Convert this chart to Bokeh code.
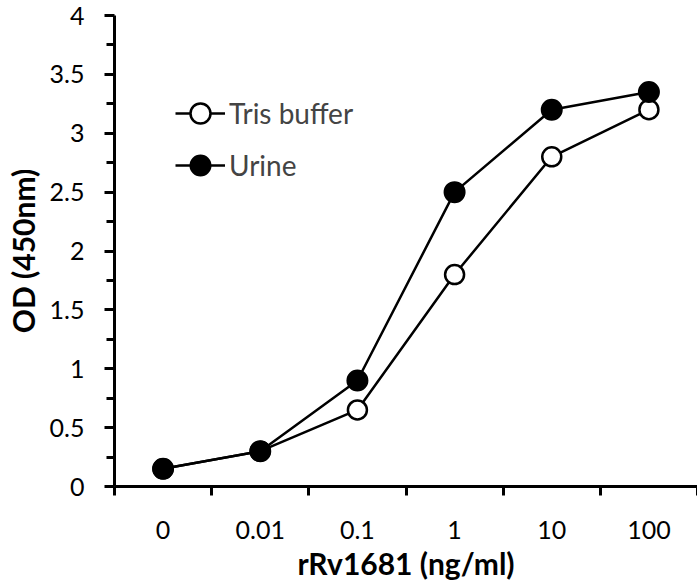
from bokeh.plotting import figure
from bokeh.models import FixedTicker, Range1d, Legend, LegendItem
from bokeh.embed import file_html
from bokeh.resources import INLINE
import numpy as np

# Data
concentrations = ["0", "0.01", "0.1", "1", "10", "100"]
tris_buffer = [0.15, 0.30, 0.65, 1.80, 2.80, 3.20]
urine = [0.15, 0.30, 0.90, 2.50, 3.20, 3.35]
y_ticks = [0, 0.5, 1, 1.5, 2, 2.5, 3, 3.5, 4]
y_minor = [0.25, 0.75, 1.25, 1.75, 2.25, 2.75, 3.25, 3.75]

n = len(concentrations)
xs = list(np.arange(n) + 0.5)

FONT = "Lato"

p = figure(frame_width=583, frame_height=471,
           min_border_left=114, min_border_right=0,
           min_border_top=15, min_border_bottom=86,
           x_range=Range1d(0, n), y_range=Range1d(0, 4),
           output_backend="svg", toolbar_location=None,
           background_fill_color="white", border_fill_color="white")
p.outline_line_color = None
p.xgrid.visible = False
p.ygrid.visible = False

# X axis
p.xaxis.ticker = FixedTicker(ticks=xs, minor_ticks=list(range(n + 1)))
p.xaxis.major_label_overrides = {x: c for x, c in zip(xs, concentrations)}
p.xaxis.major_tick_in = 0
p.xaxis.major_tick_out = 0
p.xaxis.minor_tick_in = 0
p.xaxis.minor_tick_out = 9
p.xaxis.minor_tick_line_width = 3
p.xaxis.axis_line_width = 3
p.xaxis.major_label_standoff = 25
p.xaxis.axis_label = "rRv1681 (ng/ml)"
p.xaxis.axis_label_standoff = 3

# Y axis
p.yaxis.ticker = FixedTicker(ticks=y_ticks, minor_ticks=y_minor)
p.yaxis.major_label_overrides = {t: f"{t:g}" for t in y_ticks}
p.yaxis.major_tick_in = 0
p.yaxis.major_tick_out = 10
p.yaxis.major_tick_line_width = 3
p.yaxis.minor_tick_in = 0
p.yaxis.minor_tick_out = 8
p.yaxis.minor_tick_line_width = 3
p.yaxis.axis_line_width = 3
p.yaxis.major_label_standoff = 20
p.yaxis.axis_label = "OD (450nm)"
p.yaxis.axis_label_standoff = 6

for ax in (p.xaxis, p.yaxis):
    ax.major_label_text_font = FONT
    ax.major_label_text_font_size = "25px"
    ax.major_label_text_color = "black"
    ax.axis_label_text_font = FONT
    ax.axis_label_text_font_size = "30px"
    ax.axis_label_text_font_style = "bold"
    ax.axis_label_text_color = "black"
    ax.axis_line_color = "black"
    ax.major_tick_line_color = "black"
    ax.minor_tick_line_color = "black"

# Series
tl = p.line(xs, tris_buffer, line_color="black", line_width=2.5)
ts = p.scatter(xs, tris_buffer, size=19, marker="circle", fill_color="white",
               line_color="black", line_width=2.5)
ul = p.line(xs, urine, line_color="black", line_width=2.5)
us = p.scatter(xs, urine, size=20, marker="circle", fill_color="black",
               line_color="black", line_width=2)

legend = Legend(items=[LegendItem(label="Tris buffer", renderers=[tl, ts]),
                       LegendItem(label="Urine", renderers=[ul, us])],
                location=(61, 296), glyph_width=50, glyph_height=50,
                spacing=2, padding=0, margin=0, label_standoff=4,
                label_text_font=FONT, label_text_font_size="28px",
                border_line_alpha=0, background_fill_alpha=0)
p.add_layout(legend, "center")

open("out.html", "w").write(file_html(p, INLINE))
